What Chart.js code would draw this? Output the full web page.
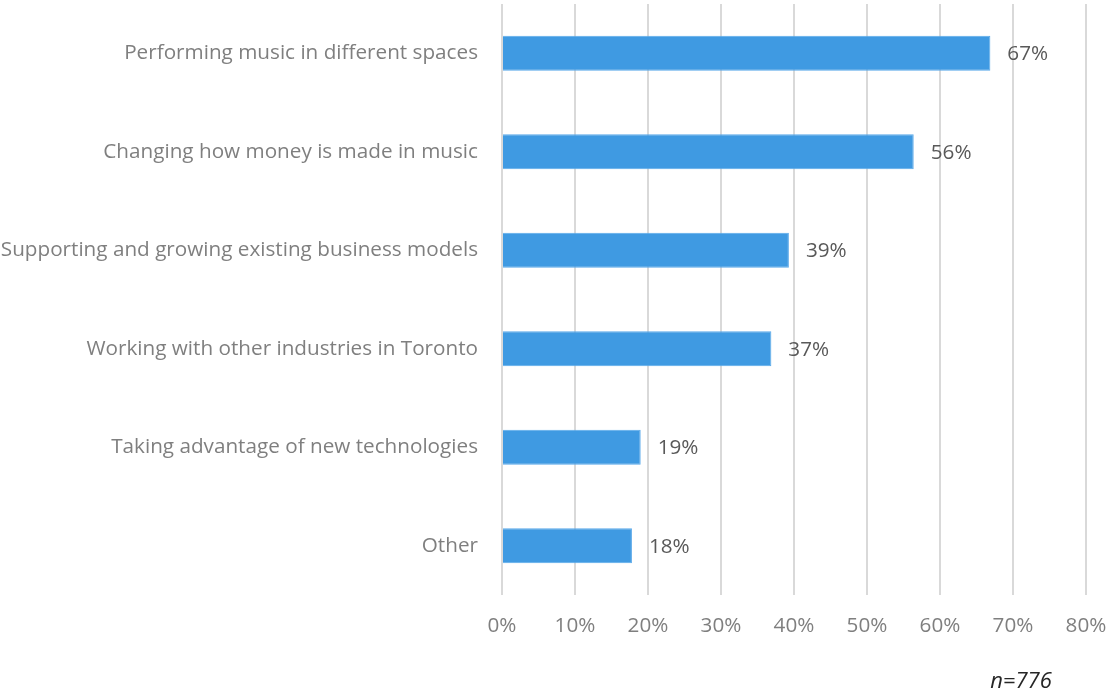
<!DOCTYPE html>
<html>
<head>
<meta charset="utf-8">
<script src="https://cdn.jsdelivr.net/npm/chart.js@4"></script>
<style>
html,body{margin:0;padding:0;background:#fff;}
#wrap{width:1108px;height:694px;position:relative;}
</style>
</head>
<body>
<div id="wrap"><canvas id="c" width="1108" height="694"></canvas></div>
<script>
const categories = [
  "Performing music in different spaces",
  "Changing how money is made in music",
  "Supporting and growing existing business models",
  "Working with other industries in Toronto",
  "Taking advantage of new technologies",
  "Other"
];
const values = [66.9, 56.4, 39.3, 36.9, 19.0, 17.8];
const valueLabels = ["67%", "56%", "39%", "37%", "19%", "18%"];
const xTicks = [0, 10, 20, 30, 40, 50, 60, 70, 80];
const note = "n=776";

const FONT = "'Open Sans', Lato, sans-serif";

const labelPlugin = {
  id: 'valueLabels',
  afterDatasetsDraw(chart) {
    const ctx = chart.ctx;
    const meta = chart.getDatasetMeta(0);
    ctx.save();
    ctx.font = "20.7px " + FONT;
    ctx.fillStyle = "#595959";
    ctx.textAlign = "left";
    ctx.textBaseline = "middle";
    meta.data.forEach((bar, i) => {
      ctx.fillText(valueLabels[i], bar.x + 17, bar.y + 1);
    });
    ctx.font = "italic 22px " + FONT;
    ctx.fillStyle = "#262626";
    ctx.textAlign = "center";
    ctx.fillText(note, 1021, 682);
    ctx.restore();
  }
};

new Chart(document.getElementById('c'), {
  type: 'bar',
  data: {
    labels: categories,
    datasets: [{
      data: values,
      backgroundColor: "#3f9ae2",
      borderColor: "#5aa9ea",
      borderWidth: 1,
      categoryPercentage: 1,
      barPercentage: 0.355
    }]
  },
  options: {
    indexAxis: 'y',
    responsive: false,
    animation: false,
    layout: { padding: { top: 4, right: 22, left: 0, bottom: 0 } },
    plugins: { legend: { display: false }, tooltip: { enabled: false } },
    scales: {
      x: {
        min: 0, max: 80,
        afterBuildTicks(scale) { scale.ticks = xTicks.map(v => ({ value: v })); },
        afterFit(scale) {
          scale.height = 99;
          scale.paddingLeft = 0; scale.paddingRight = 0;
          scale.paddingTop = 0; scale.paddingBottom = 0;
        },
        ticks: {
          callback: v => v + "%",
          color: "#7f7f7f",
          font: { family: FONT, size: 20.7 },
          padding: 19,
          maxRotation: 0
        },
        grid: { color: "#d9d9d9", lineWidth: 2, drawTicks: false },
        border: { display: false }
      },
      y: {
        afterFit(scale) {
          scale.width = 502;
          scale.paddingLeft = 0; scale.paddingRight = 0;
          scale.paddingTop = 0; scale.paddingBottom = 0;
        },
        ticks: {
          color: "#7f7f7f",
          font: { family: FONT, size: 20.7 },
          padding: 24
        },
        grid: { display: false, drawTicks: false },
        border: { display: false }
      }
    }
  },
  plugins: [labelPlugin]
});
</script>
</body>
</html>
